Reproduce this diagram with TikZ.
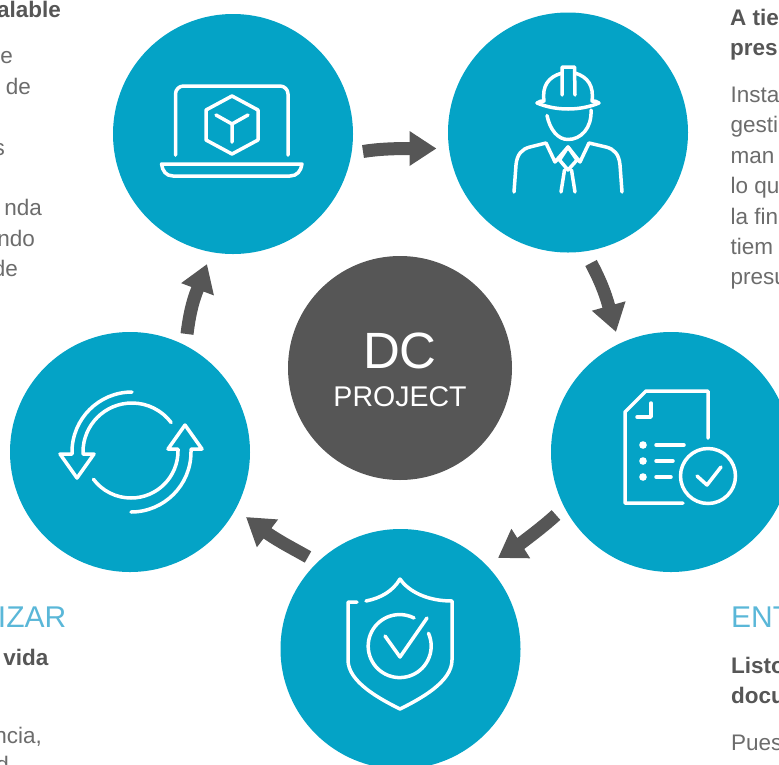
\documentclass[tikz,border=0pt]{standalone}
\usepackage{fontspec}
\setmainfont{Liberation Sans}
\usetikzlibrary{arrows.meta}
\definecolor{teal}{HTML}{04A3C6}
\definecolor{dark}{HTML}{565656}
\definecolor{body}{HTML}{6C6C6C}
\definecolor{head}{HTML}{5AB7D8}
\tikzset{
  x=1pt,y=-1pt,
  disc/.style={circle,fill=teal,minimum size=240pt,inner sep=0pt,outer sep=0pt},
  hub/.style={circle,fill=dark,minimum size=224pt,inner sep=0pt,outer sep=0pt},
  icon/.style={draw=white,line width=3.5pt,line cap=round,line join=round},
  flow/.style={draw=dark,line width=13pt,-{Triangle[length=27pt,width=33pt]}},
  bodyR/.style={anchor=base east,inner sep=0pt,text=body,font=\fontsize{22.5}{22.5}\selectfont},
  bodyL/.style={anchor=base west,inner sep=0pt,text=body,font=\fontsize{22.5}{22.5}\selectfont},
  boldR/.style={anchor=base east,inner sep=0pt,text=dark,font=\fontsize{22.5}{22.5}\selectfont\bfseries},
  boldL/.style={anchor=base west,inner sep=0pt,text=dark,font=\fontsize{22.5}{22.5}\selectfont\bfseries},
  headR/.style={anchor=base east,inner sep=0pt,text=head,font=\fontsize{30}{30}\selectfont},
  headL/.style={anchor=base west,inner sep=0pt,text=head,font=\fontsize{30}{30}\selectfont},
}
\begin{document}
\begin{tikzpicture}
\useasboundingbox (0,0) rectangle (779,764);
% discs
\node[disc] (design) at (233,134) {};
\node[disc] (build) at (568,132.5) {};
\node[disc] (deliver) at (671,452) {};
\node[disc] (protect) at (400.5,649) {};
\node[disc] (update) at (130,452) {};
\node[hub] (hub) at (400,368) {};
\node[anchor=base,inner sep=0pt,text=white,font=\fontsize{51}{51}\selectfont] (dc) at (400,368) {DC};
\node[anchor=base,inner sep=0pt,text=white,font=\fontsize{28.5}{28.5}\selectfont] (proj) at (400,406) {PROJECT};
% connectors
\coordinate (a1) at (363,151.5); \coordinate (a1b) at (410,148.5); \coordinate (a1t) at (436.5,148.5);
\coordinate (a2) at (591,263); \coordinate (a2b) at (609,307); \coordinate (a2t) at (616,332);
\coordinate (a3) at (556,515); \coordinate (a3b) at (520,544); \coordinate (a3t) at (498,558);
\coordinate (a4) at (308,557); \coordinate (a4b) at (267,533); \coordinate (a4t) at (246,517);
\coordinate (a5) at (187,334); \coordinate (a5b) at (198,288); \coordinate (a5t) at (207,264);
\draw[flow] (a1) .. controls (378,149) and (395,148.5) .. (a1b) -- (a1t);
\draw[flow] (a2) .. controls (599,278) and (605,292) .. (a2b) -- (a2t);
\draw[flow] (a3) .. controls (545,525) and (532,535) .. (a3b) -- (a3t);
\draw[flow] (a4) .. controls (294,549) and (280,542) .. (a4b) -- (a4t);
\draw[flow] (a5) .. controls (189,318) and (192,302) .. (a5b) -- (a5t);
% laptop icon
\draw[icon] (175.5,155) -- (175.5,94) arc[start angle=180,end angle=90,radius=8pt] -- (280,86) arc[start angle=90,end angle=0,radius=8pt] -- (288,155);
\draw[icon] (161.5,164) -- (302,164) .. controls (301,171) and (297,176) .. (290,176) -- (173,176) .. controls (166,176) and (162.5,171) .. cycle;
\draw[icon] (232,96) -- (258,110) -- (258,140) -- (232,154) -- (206,140) -- (206,110) -- cycle;
\draw[icon] (216,115) -- (232,124) -- (248,115) (232,124) -- (232,142);
% worker icon
\draw[icon] (537,103) .. controls (556,111) and (580,111) .. (599,103) .. controls (597,101) and (594,101) .. (592,101) .. controls (594,86) and (588,77) .. (575,73);
\draw[icon] (537,103) .. controls (539,101) and (542,101) .. (544,101) .. controls (542,86) and (548,77) .. (562,73);
\draw[icon] (562,95) -- (562,67) -- (574.5,67) -- (575,95);
\draw[icon] (547,115.5) .. controls (550,130) and (558,139.5) .. (568,139.5) .. controls (581,139.5) and (592,128) .. (591,110);
\draw[icon] (514,192) -- (516,165) .. controls (517,154) and (522,149) .. (530,147) -- (546,143) -- (555,162) -- (568,147) -- (580,162) -- (589,143) -- (606,147) .. controls (614,149) and (619,154) .. (620,165) -- (622,192);
\draw[icon] (568,147) -- (559.5,160) -- (568,170) -- (577,160) -- cycle;
\draw[icon] (564.5,170) -- (561,192) (571.5,170) -- (575,192);
% document icon
\draw[icon] (708,438) -- (708,391) -- (646,391) -- (625,412) -- (625,503) -- (683,503);
\draw[icon] (651,403) -- (651,417) -- (637,417);
\fill[white] (643,445) circle[radius=3.8pt] (643,461) circle[radius=3.8pt] (643,477) circle[radius=3.8pt];
\draw[icon] (656,445) -- (684,445) (656,461) -- (673,461) (656,477) -- (671,477);
\draw[icon] (708,476) circle[radius=27.5pt];
\draw[icon] (697,476) -- (707,485) -- (721,467);
% shield icon
\draw[icon] (366,601) .. controls (381,598) and (393,591) .. (400,579) .. controls (409,592) and (428,601) .. (452,601) -- (452,660) .. controls (452,682) and (420,699) .. (400,709) .. controls (380,699) and (348,682) .. (348,660) -- (348,602) -- (357,602);
\draw[icon] (414,618) arc[start angle=63,end angle=384,radius=31.5pt];
\draw[icon] (385,636) -- (400,657) -- (427,618);
% refresh icon
\draw[icon] (132,392) arc[start angle=90,end angle=180,radius=60pt] -- (72,454) -- (60,454) -- (77,478) -- (94,454) -- (83,454) -- (83,452) arc[start angle=180,end angle=37,radius=49pt];
\draw[icon] (131,512) arc[start angle=270,end angle=360,radius=60pt] -- (191,449) -- (202,449) -- (185,425) -- (168,449) -- (178,449) -- (178,451) arc[start angle=0,end angle=-143,radius=47pt];
% text, left
\node[boldR] (t1) at (61,17) {alable};
\node[bodyR] (t2) at (13,63) {e};
\node[bodyR] (t3) at (31,94) {de};
\node[bodyR] (t4) at (5,155) {s};
\node[bodyR] (t5) at (42,215) {nda};
\node[bodyR] (t6) at (35,246) {ndo};
\node[bodyR] (t7) at (18,276) {de};
\node[headR] (t8) at (66.5,627) {IZAR};
\node[boldR] (t9) at (48.5,665) {vida};
\node[bodyR] (t10) at (42,743) {ncia,};
\node[bodyR] (t11) at (9,772) {d};
% text, right
\node[boldL] (r1) at (730,25) {A tie};
\node[boldL] (r2) at (730,55) {pres};
\node[bodyL] (r3) at (730.5,102) {Insta};
\node[bodyL] (r4) at (730.5,132.5) {gesti};
\node[bodyL] (r5) at (730.5,163) {man};
\node[bodyL] (r6) at (730.5,193) {lo qu};
\node[bodyL] (r7) at (730.5,224) {la fin};
\node[bodyL] (r8) at (730.5,254) {tiem};
\node[bodyL] (r9) at (730.5,284) {presu};
\node[headL] (r10) at (731,627) {ENT};
\node[boldL] (r11) at (731,673) {Listo};
\node[boldL] (r12) at (731,703) {docu};
\node[bodyL] (r13) at (731,750) {Pues};
\end{tikzpicture}
\end{document}
